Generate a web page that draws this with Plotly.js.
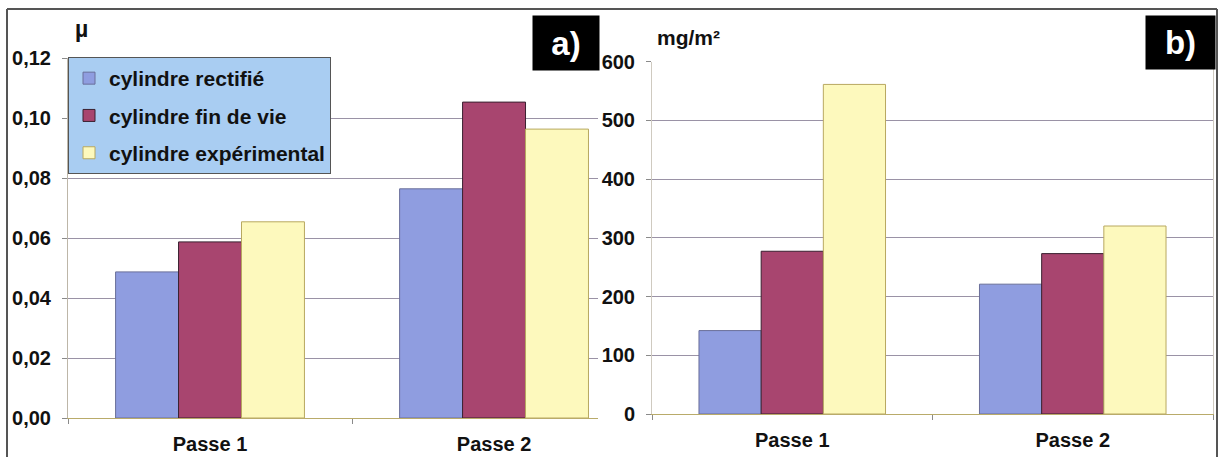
<!DOCTYPE html>
<html>
<head>
<meta charset="utf-8">
<script src="https://cdn.plot.ly/plotly-3.0.1.min.js"></script>
<style>html,body{margin:0;padding:0;background:#fff;}#chart{width:1219px;height:457px;}</style>
</head>
<body>
<div id="chart"></div>
<script>
// Data
const categories = ["Passe 1", "Passe 2"];
const seriesNames = ["cylindre rectifié", "cylindre fin de vie", "cylindre expérimental"];
// a) coefficient de frottement µ
const muRectifie = [0.0487, 0.0764];
const muFinDeVie = [0.0587, 0.1053];
const muExperimental = [0.0654, 0.0963];
// b) mg/m²
const mgRectifie = [142, 221];
const mgFinDeVie = [277, 273];
const mgExperimental = [561, 320];
const muTicks = [0, 0.02, 0.04, 0.06, 0.08, 0.10, 0.12];
const mgTicks = [0, 100, 200, 300, 400, 500, 600];

const colors = ["#8f9de0", "#a8456f", "#fdf9bd"];
const lineColors = ["#6a6f9a", "#3a2030", "#b8a860"];
const FONT = "Liberation Sans, Arial, sans-serif";

const muSeries = [muRectifie, muFinDeVie, muExperimental];
const mgSeries = [mgRectifie, mgFinDeVie, mgExperimental];

const traces = [];
muSeries.forEach((vals, i) => {
  traces.push({
    type: "bar", x: categories, y: vals, name: seriesNames[i],
    xaxis: "x", yaxis: "y", legendgroup: "g" + i,
    marker: {color: colors[i], line: {color: lineColors[i], width: 1}},
    hoverinfo: "skip"
  });
});
mgSeries.forEach((vals, i) => {
  traces.push({
    type: "bar", x: categories, y: vals, name: seriesNames[i],
    xaxis: "x2", yaxis: "y2", showlegend: false, legendgroup: "g" + i,
    marker: {color: colors[i], line: {color: lineColors[i], width: 1}},
    hoverinfo: "skip"
  });
});

const W = 1219, H = 457;
const tickFont = {family: FONT, size: 20, color: "#111", weight: 700};
const gridColor = "#9a92a6";

const layout = {
  width: W, height: H,
  margin: {l: 0, r: 0, t: 0, b: 0},
  paper_bgcolor: "#fff", plot_bgcolor: "#fff",
  separators: ",.",
  barmode: "group", bargap: 0.335, bargroupgap: 0,
  showlegend: true,
  font: {family: FONT, size: 20, color: "#111"},
  legend: {
    x: 68 / W, y: 1 - 57 / H, xanchor: "left", yanchor: "top",
    bgcolor: "#a9cdf2", bordercolor: "#555", borderwidth: 1,
    font: {family: FONT, size: 21, color: "#111", weight: 700},
    traceorder: "grouped", tracegroupgap: 7, itemwidth: 30
  },
  xaxis: {
    domain: [68 / W, 598 / W], range: [-0.5, 1.366], type: "category",
    showline: true, linecolor: "#b9ab6a", linewidth: 1,
    ticks: "outside", tickson: "boundaries", ticklen: 5, tickcolor: "#8a8a8a",
    ticklabelstandoff: 8,
    tickfont: tickFont, showgrid: false, zeroline: false, fixedrange: true
  },
  yaxis: {
    domain: [1 - 418 / H, 1 - 58 / H], range: [0, 0.12],
    tickvals: muTicks, tickformat: ".2f",
    showline: true, linecolor: "#bdb6a8", linewidth: 1,
    ticks: "outside", ticklen: 5, tickcolor: "#8a8a8a", ticklabelstandoff: 7,
    showgrid: true, gridcolor: gridColor, gridwidth: 1, zeroline: false,
    tickfont: tickFont, fixedrange: true
  },
  xaxis2: {
    domain: [652 / W, 1213 / W], range: [-0.5, 1.5], type: "category", anchor: "y2",
    showline: true, linecolor: "#b9ab6a", linewidth: 1,
    ticks: "outside", tickson: "boundaries", ticklen: 5, tickcolor: "#8a8a8a",
    ticklabelstandoff: 8,
    tickfont: tickFont, showgrid: false, zeroline: false, fixedrange: true
  },
  yaxis2: {
    domain: [1 - 414 / H, 1 - 61.5 / H], range: [0, 600], anchor: "x2",
    tickvals: mgTicks,
    showline: true, mirror: true, linecolor: "#cfcac0", linewidth: 1,
    ticks: "outside", ticklen: 5, tickcolor: "#8a8a8a", ticklabelstandoff: 7,
    showgrid: true, gridcolor: gridColor, gridwidth: 1, zeroline: false,
    tickfont: tickFont, fixedrange: true
  },
  annotations: [
    {text: "µ", xref: "paper", yref: "paper", x: 73 / W, y: 1 - 29 / H,
     xanchor: "left", yanchor: "middle", showarrow: false,
     font: {family: FONT, size: 23, color: "#111", weight: 700}},
    {text: "mg/m²", xref: "paper", yref: "paper", x: 655 / W, y: 1 - 37 / H,
     xanchor: "left", yanchor: "middle", showarrow: false,
     font: {family: FONT, size: 21, color: "#111", weight: 700}},
    {text: "a)", xref: "paper", yref: "paper", x: 566 / W, y: 1 - 43 / H,
     xanchor: "center", yanchor: "middle", showarrow: false,
     bgcolor: "#000", width: 66, height: 54, borderpad: 0,
     font: {family: FONT, size: 33, color: "#fff", weight: 700}},
    {text: "b)", xref: "paper", yref: "paper", x: 1180.5 / W, y: 1 - 42.5 / H,
     xanchor: "center", yanchor: "middle", showarrow: false,
     bgcolor: "#000", width: 69, height: 53, borderpad: 0,
     font: {family: FONT, size: 33, color: "#fff", weight: 700}}
  ],
  shapes: [
    {type: "line", xref: "paper", yref: "paper", x0: 7 / W, x1: 1217 / W, y0: 1 - 9 / H, y1: 1 - 9 / H,
     line: {color: "#555", width: 2}},
    {type: "line", xref: "paper", yref: "paper", x0: 7 / W, x1: 7 / W, y0: 1 - 9 / H, y1: 0,
     line: {color: "#555", width: 2}},
    {type: "line", xref: "paper", yref: "paper", x0: 1217 / W, x1: 1217 / W, y0: 1 - 9 / H, y1: 0,
     line: {color: "#555", width: 2}}
  ]
};

Plotly.newPlot("chart", traces, layout, {displayModeBar: false, staticPlot: true});
</script>
</body>
</html>
